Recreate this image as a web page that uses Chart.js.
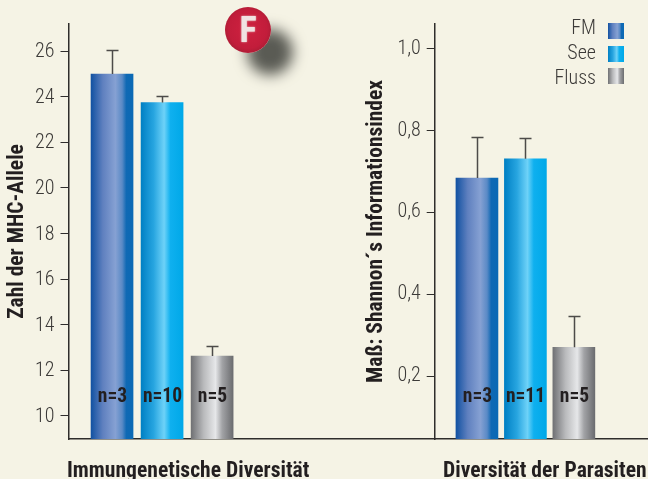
<!DOCTYPE html>
<html>
<head>
<meta charset="utf-8">
<script src="https://cdn.jsdelivr.net/npm/chart.js@4"></script>
<style>
  html, body { margin: 0; padding: 0; background: #f5f3e5; }
  #page { position: relative; width: 648px; height: 479px; overflow: hidden; font-family: "Roboto Condensed", sans-serif; color: #231f20; }
  canvas { position: absolute; top: 0; }
  .group { position: absolute; top: 458px; font-size: 21.6px; font-weight: bold; white-space: nowrap; line-height: 24px; }
  .legend { position: absolute; right: 52px; font-size: 20px; font-weight: 300; color: #3c3a38; line-height: 20px; }
  .swatch { position: absolute; left: 608px; width: 16px; height: 16px; }
  #badge { position: absolute; left: 225px; top: 7px; width: 46px; height: 46px; border-radius: 50%;
    background: radial-gradient(circle at 50% 48%, #cf2140 0%, #c21d3b 58%, #a01c32 82%, #74192a 100%);
    box-shadow: 22px 22px 14px 0 #5a5b54; color: #f0e2e2; font: bold 36px/46px "Roboto Condensed", sans-serif; text-align: center; text-shadow: 0 0 2px #e8c8c8; }
</style>
</head>
<body>
<div id="page">
  <canvas id="left" width="435" height="479" style="left:0"></canvas>
  <canvas id="right" width="288" height="479" style="left:360px"></canvas>
  <div id="badge">F</div>
  <div class="group" style="left:67px">Immungenetische Diversität</div>
  <div class="group" style="left:443px">Diversität der Parasiten</div>
</div>
<script>
const seriesNames = ['FM', 'See', 'Fluss']

const alleleValues = [25.0, 23.75, 12.62]
const alleleErrorTops = [26.05, 24.03, 13.07]
const alleleCounts = ['n=3', 'n=10', 'n=5']
const alleleTicks = [10, 12, 14, 16, 18, 20, 22, 24, 26]

const parasiteValues = [0.684, 0.731, 0.271]
const parasiteErrorTops = [0.783, 0.781, 0.347]
const parasiteCounts = ['n=3', 'n=11', 'n=5']
const parasiteTicks = [0.2, 0.4, 0.6, 0.8, 1.0]

const barStops = [
  [[0, '#1252a2'], [0.28, '#5f80bf'], [0.58, '#86a1d3'], [0.74, '#5a8ac6'], [0.84, '#0f69b4'], [1, '#0a69b5']],
  [[0, '#0080c4'], [0.3, '#27a5e0'], [0.55, '#6ed2f8'], [0.7, '#0fb0ef'], [1, '#00a8e8']],
  [[0, '#707174'], [0.3, '#b9babc'], [0.58, '#e6e7e9'], [0.74, '#a2a3a6'], [1, '#6b6c6f']]
]
const AXIS = '#2f2d2b'
const FONT = '"Roboto Condensed", sans-serif'

function barFill(i) {
  return ctx => {
    const chart = ctx.chart
    if (!chart.chartArea) return barStops[i][0][1]
    const mid = chart.scales.x.getPixelForValue(i)
    const g = chart.ctx.createLinearGradient(mid - 21, 0, mid + 21, 0)
    barStops[i].forEach(s => g.addColorStop(s[0], s[1]))
    return g
  }
}

// whiskers and the n= labels, drawn on top of the bars
const barExtras = {
  id: 'barExtras',
  afterDatasetsDraw(chart, args, opts) {
    const { ctx, scales: { x, y } } = chart
    ctx.save()
    opts.tops.forEach((top, i) => {
      const px = Math.round(x.getPixelForValue(i)) + 0.5
      const from = y.getPixelForValue(opts.values[i])
      const to = Math.round(y.getPixelForValue(top)) + 0.5
      ctx.strokeStyle = '#4d4b49'
      ctx.lineWidth = 1.5
      ctx.beginPath()
      ctx.moveTo(px, from)
      ctx.lineTo(px, to)
      ctx.moveTo(px - 6, to)
      ctx.lineTo(px + 6, to)
      ctx.stroke()
      ctx.fillStyle = '#231f20'
      ctx.font = 'bold 19.5px ' + FONT
      ctx.textAlign = 'center'
      ctx.textBaseline = 'middle'
      ctx.fillText(opts.counts[i], px, 397)
    })
    ctx.restore()
  }
}

function drawPanel(id, cfg) {
  return new Chart(document.getElementById(id), {
    type: 'bar',
    data: {
      datasets: seriesNames.map((name, i) => ({
        label: name,
        data: [{ x: i, y: cfg.values[i] }],
        backgroundColor: barFill(i),
        barThickness: 42,
        grouped: false
      }))
    },
    plugins: [barExtras],
    options: {
      responsive: false,
      animation: false,
      layout: { padding: { top: 24, bottom: 40, left: 0, right: 0 } },
      plugins: {
        legend: { display: false },
        tooltip: { enabled: false },
        barExtras: { tops: cfg.tops, values: cfg.values, counts: cfg.counts }
      },
      scales: {
        x: {
          type: 'linear',
          offset: false,
          min: cfg.xMin,
          max: cfg.xMax,
          afterFit: s => { s.height = 0 },
          ticks: { display: false },
          grid: { display: false, offset: false },
          border: { color: AXIS, width: 1.5 }
        },
        y: {
          min: cfg.yMin,
          max: cfg.yMax,
          afterFit: s => { s.width = cfg.axisWidth },
          afterBuildTicks: s => { s.ticks = cfg.ticks.map(v => ({ value: v })) },
          title: {
            display: true,
            text: cfg.title,
            color: '#231f20',
            font: { family: FONT, size: 21.5, weight: 'bold' },
            padding: { top: cfg.titleGap, bottom: 0 }
          },
          ticks: {
            color: '#3c3a38',
            padding: 6,
            labelOffset: cfg.labelOffset,
            font: { family: FONT, size: 20, weight: 300 },
            callback: cfg.format
          },
          grid: { drawOnChartArea: false, color: AXIS, tickLength: 8, lineWidth: 1 },
          border: { color: AXIS, width: 1.5 }
        }
      }
    }
  })
}

drawPanel('left', {
  values: alleleValues, tops: alleleErrorTops, counts: alleleCounts, ticks: alleleTicks,
  title: 'Zahl der MHC-Allele', titleGap: 5, labelOffset: 1,
  yMin: 8.98, yMax: 27.2, xMin: -0.87, xMax: 6.454, axisWidth: 68.5,
  format: v => String(v)
})

drawPanel('right', {
  values: parasiteValues, tops: parasiteErrorTops, counts: parasiteCounts, ticks: parasiteTicks,
  title: 'Maß: Shannon´s Informationsindex', titleGap: 4, labelOffset: 0,
  yMin: 0.047, yMax: 1.06, xMin: -0.872, xMax: 3.53, axisWidth: 74.7,
  format: v => v.toFixed(1).replace('.', ',')
})

// legend sits at the top right, label left of the swatch
const page = document.getElementById('page')
seriesNames.forEach((name, i) => {
  const label = document.createElement('div')
  label.className = 'legend'
  label.style.top = (17 + 25 * i) + 'px'
  label.textContent = name
  page.appendChild(label)
  const sw = document.createElement('div')
  sw.className = 'swatch'
  sw.style.top = (23 + 22.5 * i) + 'px'
  sw.style.background = 'linear-gradient(90deg,' + barStops[i].map(s => s[1] + ' ' + s[0] * 100 + '%').join(',') + ')'
  page.appendChild(sw)
})
</script>
</body>
</html>
